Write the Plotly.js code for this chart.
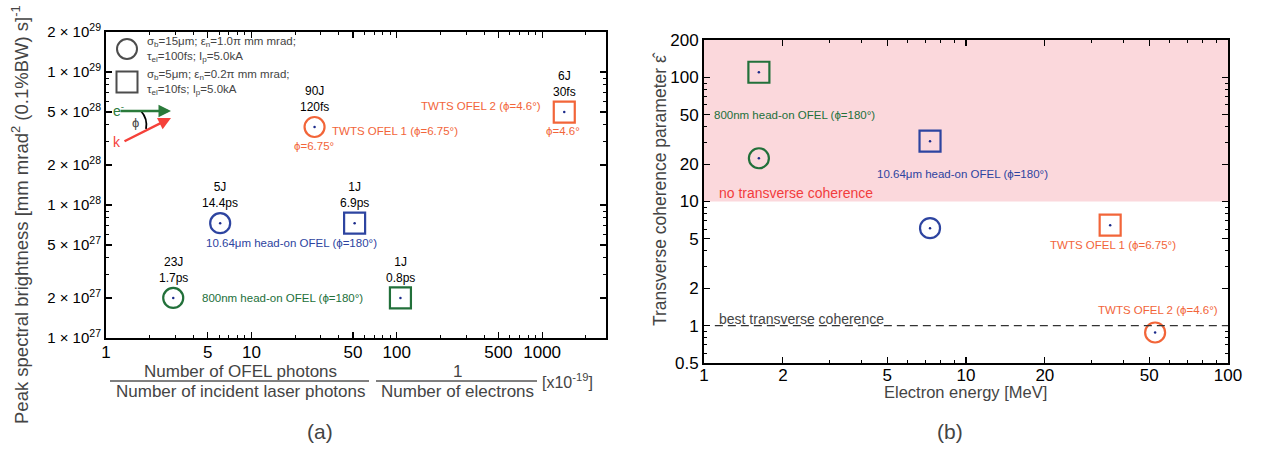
<!DOCTYPE html>
<html><head><meta charset="utf-8">
<script src="https://cdn.plot.ly/plotly-3.0.1.min.js"></script>
<style>body{margin:0;background:#fff}#c{width:1268px;height:450px}</style>
</head><body><div id="c"></div>
<script>
// ---- data ----
const seriesNames = ["800nm head-on OFEL", "10.64μm head-on OFEL", "TWTS OFEL"];
const seriesColors = ["#22703a", "#2d44a0", "#f26539"];
// panel (a): x = N_OFEL / N_laser / N_e [x1e-19], y = peak spectral brightness
const aCircleX = [2.9, 6.1, 27.2];
const aCircleY = [2e27, 7.3e27, 3.86e28];
const aSquareX = [106, 51.3, 1420];
const aSquareY = [2e27, 7.3e27, 5e28];
const aCircleLabels = ["23J<br>1.7ps", "5J<br>14.4ps", "90J<br>120fs"];
const aSquareLabels = ["1J<br>0.8ps", "1J<br>6.9ps", "6J<br>30fs"];
// panel (b): x = electron energy [MeV], y = transverse coherence parameter
const bCircleX = [1.62, 7.29, 52.7];
const bCircleY = [22.3, 6.1, 0.88];
const bSquareX = [1.62, 7.29, 35.5];
const bSquareY = [110, 30.6, 6.45];
// ticks
const aXTicks = [1, 5, 10, 50, 100, 500, 1000];
const aYTicks = [1e27, 2e27, 5e27, 1e28, 2e28, 5e28, 1e29, 2e29];
const aYTickText = ["1 × 10<sup>27</sup>", "2 × 10<sup>27</sup>", "5 × 10<sup>27</sup>", "1 × 10<sup>28</sup>", "2 × 10<sup>28</sup>", "5 × 10<sup>28</sup>", "1 × 10<sup>29</sup>", "2 × 10<sup>29</sup>"];
const bXTicks = [1, 2, 5, 10, 20, 50, 100];
const bYTicks = [0.5, 1, 2, 5, 10, 20, 50, 100, 200];
const cohLimit = 10, bestCoh = 1;

// ---- helpers ----
const W = 1268, H = 450;
const px = x => x / W, py = y => 1 - y / H;
function minorLog(lo, hi, majors) {
  const out = [];
  for (let d = Math.floor(Math.log10(lo)); d <= Math.ceil(Math.log10(hi)); d++) {
    for (let m = 1; m < 10; m++) {
      const v = m * Math.pow(10, d);
      if (v >= lo && v <= hi && !majors.some(t => Math.abs(t - v) / v < 1e-6)) out.push(v);
    }
  }
  return out;
}
const FONT = "Liberation Sans, Arial, sans-serif";
const dotColor = "#1b2a8a";
const LBL = 11.5;

const traces = [
  {x: aCircleX, y: aCircleY, xaxis: 'x', yaxis: 'y', mode: 'markers', type: 'scatter',
   marker: {symbol: 'circle-open', size: 20, color: seriesColors, line: {width: 2.2}}},
  {x: aSquareX, y: aSquareY, xaxis: 'x', yaxis: 'y', mode: 'markers', type: 'scatter',
   marker: {symbol: 'square-open', size: 21, color: seriesColors, line: {width: 2.2}}},
  {x: aCircleX.concat(aSquareX), y: aCircleY.concat(aSquareY), xaxis: 'x', yaxis: 'y', mode: 'markers', type: 'scatter',
   marker: {symbol: 'circle', size: 2.5, color: dotColor}},
  {x: bCircleX, y: bCircleY, xaxis: 'x2', yaxis: 'y2', mode: 'markers', type: 'scatter',
   marker: {symbol: 'circle-open', size: 20, color: seriesColors, line: {width: 2.2}}},
  {x: bSquareX, y: bSquareY, xaxis: 'x2', yaxis: 'y2', mode: 'markers', type: 'scatter',
   marker: {symbol: 'square-open', size: 21, color: seriesColors, line: {width: 2.2}}},
  {x: bCircleX.concat(bSquareX), y: bCircleY.concat(bSquareY), xaxis: 'x2', yaxis: 'y2', mode: 'markers', type: 'scatter',
   marker: {symbol: 'circle', size: 2.5, color: dotColor}},
  // legend symbols (panel a, top-left)
  {x: [px(127), px(127)], y: [py(49), py(82)], xaxis: 'x3', yaxis: 'y3', mode: 'markers', type: 'scatter',
   marker: {symbol: ['circle-open', 'square-open'], size: [20, 21], color: '#000', line: {width: 2}}}
];

const ann = [];
function A(text, x, y, o) {
  ann.push(Object.assign({text, x: px(x), y: py(y), xref: 'paper', yref: 'paper', showarrow: false,
    xanchor: 'center', yanchor: 'middle',
    font: {family: FONT, size: 12, color: '#000'}}, o || {}));
}
// marker labels (energy / duration) above each point in panel (a)
aCircleX.forEach((x, i) => ann.push({text: aCircleLabels[i], x: Math.log10(x), y: Math.log10(aCircleY[i]),
  xref: 'x', yref: 'y', showarrow: false, xanchor: 'center', yanchor: 'bottom', yshift: 11, font: {family: FONT, size: 12, color: '#000'}}));
aSquareX.forEach((x, i) => ann.push({text: aSquareLabels[i], x: Math.log10(x), y: Math.log10(aSquareY[i]),
  xref: 'x', yref: 'y', showarrow: false, xanchor: 'center', yanchor: 'bottom', yshift: 11, font: {family: FONT, size: 12, color: '#000'}}));

// panel (a) series labels
A("800nm head-on OFEL (ϕ=180°)", 200, 298, {xanchor: 'left', font: {family: FONT, size: LBL, color: seriesColors[0]}});
A("10.64μm head-on OFEL (ϕ=180°)", 204, 243, {xanchor: 'left', font: {family: FONT, size: LBL, color: seriesColors[1]}});
A("TWTS OFEL 1 (ϕ=6.75°)", 330, 131, {xanchor: 'left', font: {family: FONT, size: LBL, color: seriesColors[2]}});
A("ϕ=6.75°", 314, 146, {font: {family: FONT, size: LBL, color: seriesColors[2]}});
A("TWTS OFEL 2 (ϕ=4.6°)", 543, 106, {xanchor: 'right', font: {family: FONT, size: LBL, color: seriesColors[2]}});
A("ϕ=4.6°", 563, 131, {font: {family: FONT, size: LBL, color: seriesColors[2]}});
// legend texts
A("σ<sub>b</sub>=15μm; ε<sub>n</sub>=1.0π mm mrad;", 145, 42, {xanchor: 'left', font: {family: FONT, size: 11.5}});
A("τ<sub>el</sub>=100fs; I<sub>p</sub>=5.0kA", 145, 57, {xanchor: 'left', font: {family: FONT, size: 11.5}});
A("σ<sub>b</sub>=5μm; ε<sub>n</sub>=0.2π mm mrad;", 145, 75, {xanchor: 'left', font: {family: FONT, size: 11.5}});
A("τ<sub>el</sub>=10fs; I<sub>p</sub>=5.0kA", 145, 90, {xanchor: 'left', font: {family: FONT, size: 11.5}});
// angle sketch
ann.push({text: '', x: px(171), y: py(111), xref: 'paper', yref: 'paper', ax: -52, ay: 0,
  showarrow: true, arrowhead: 2, arrowsize: 1, arrowwidth: 2.5, arrowcolor: '#2a7a3a'});
ann.push({text: '', x: px(171), y: py(118), xref: 'paper', yref: 'paper', ax: -48, ay: 24,
  showarrow: true, arrowhead: 2, arrowsize: 1, arrowwidth: 2.5, arrowcolor: '#f5413a'});
A("e<sup>-</sup>", 118, 110, {font: {family: FONT, size: 14, color: '#2a7a3a'}});
A("k", 117, 142, {font: {family: FONT, size: 14, color: '#f5413a'}});
A("ϕ", 135, 123, {font: {family: FONT, size: 13}});

// panel (a) axis label (fractions)
A("Number of OFEL photons", 240, 371.5, {font: {family: FONT, size: 17}});
A("Number of incident laser photons", 240, 391, {font: {family: FONT, size: 17}});
A("1", 457, 371.5, {font: {family: FONT, size: 17}});
A("Number of electrons", 457, 391, {font: {family: FONT, size: 17}});
A("[x10<sup>-19</sup>]", 540, 381, {xanchor: 'left', font: {family: FONT, size: 16}});
A("(a)", 320, 431, {font: {family: FONT, size: 21}});
A("(b)", 950, 431, {font: {family: FONT, size: 21}});
A("Peak spectral brightness [mm mrad<sup>2</sup> (0.1%BW) s]<sup>-1</sup>", 20, 215, {textangle: -90, font: {family: FONT, size: 18.5}});
A("Transverse coherence parameter \u03B5\u0302", 660, 189, {textangle: -90, font: {family: FONT, size: 17.5}});
A("Electron energy [MeV]", 965, 392, {font: {family: FONT, size: 16.5}});

// panel (b) labels
A("800nm head-on OFEL (ϕ=180°)", 712, 115, {xanchor: 'left', font: {family: FONT, size: LBL, color: seriesColors[0]}});
A("10.64μm head-on OFEL (ϕ=180°)", 875, 174, {xanchor: 'left', font: {family: FONT, size: LBL, color: seriesColors[1]}});
A("no transverse coherence", 717, 193, {xanchor: 'left', font: {family: FONT, size: 14, color: '#f23c3c'}});
A("TWTS OFEL 1 (ϕ=6.75°)", 1048, 245, {xanchor: 'left', font: {family: FONT, size: LBL, color: seriesColors[2]}});
A("TWTS OFEL 2 (ϕ=4.6°)", 1096, 310, {xanchor: 'left', font: {family: FONT, size: LBL, color: seriesColors[2]}});
A("best transverse coherence", 717, 319, {xanchor: 'left', font: {family: FONT, size: 14}});

const shapes = [
  {type: 'rect', xref: 'x2 domain', yref: 'y2', x0: 0, x1: 1, y0: cohLimit, y1: 200,
   fillcolor: '#fbd8dc', line: {width: 0}, layer: 'below'},
  {type: 'line', xref: 'x2', yref: 'y2', x0: 1.1, x1: 100, y0: bestCoh, y1: bestCoh,
   line: {color: '#333', width: 1.2, dash: '8px,5px'}},
  {type: 'line', xref: 'paper', yref: 'paper', x0: px(110), x1: px(369), y0: py(381), y1: py(381), line: {color: '#000', width: 1}},
  {type: 'line', xref: 'paper', yref: 'paper', x0: px(376), x1: px(537), y0: py(381), y1: py(381), line: {color: '#000', width: 1}},
  {type: 'path', xref: 'paper', yref: 'paper',
   path: `M ${px(141)} ${py(111)} Q ${px(148)} ${py(119)} ${px(146)} ${py(129)}`, line: {color: '#000', width: 1.8}}
];

function logAxis(domain, ticks, ticktext, lo, hi, anchor, size) {
  return {type: 'log', domain, range: [Math.log10(lo), Math.log10(hi)], anchor,
    tickmode: 'array', tickvals: ticks, ticktext: ticktext || ticks.map(String),
    ticks: 'inside', ticklen: 6, tickwidth: 1.2, tickcolor: '#000', mirror: 'allticks',
    showline: true, linecolor: '#000', linewidth: 2, showgrid: false, zeroline: false,
    tickfont: {family: FONT, size: size || 16, color: '#000'},
    minor: {tickmode: 'array', tickvals: minorLog(lo, hi, ticks), ticks: 'inside', ticklen: 3, tickwidth: 1, tickcolor: '#000', showgrid: false}};
}

const layout = {
  width: W, height: H, margin: {l: 0, r: 0, t: 0, b: 0}, showlegend: false,
  paper_bgcolor: '#fff', plot_bgcolor: 'rgba(0,0,0,0)', font: {family: FONT},
  xaxis: logAxis([px(106), px(606)], aXTicks, null, 1, 2750, 'y', 17),
  yaxis: logAxis([py(338), py(32)], aYTicks, aYTickText, 1e27, 2e29, 'x', 15),
  xaxis2: logAxis([px(704), px(1228)], bXTicks, null, 1, 100, 'y2', 17),
  yaxis2: logAxis([py(363), py(40)], bYTicks, null, 0.5, 200, 'x2', 17),
  xaxis3: {domain: [0, 1], range: [0, 1], visible: false, anchor: 'y3', fixedrange: true},
  yaxis3: {domain: [0, 1], range: [0, 1], visible: false, anchor: 'x3', fixedrange: true},
  annotations: ann, shapes
};
layout.xaxis.ticklabelstandoff = -2;
layout.xaxis2.ticklabelstandoff = -4;
Plotly.newPlot('c', traces, layout, {displayModeBar: false, staticPlot: true});
</script></body></html>
